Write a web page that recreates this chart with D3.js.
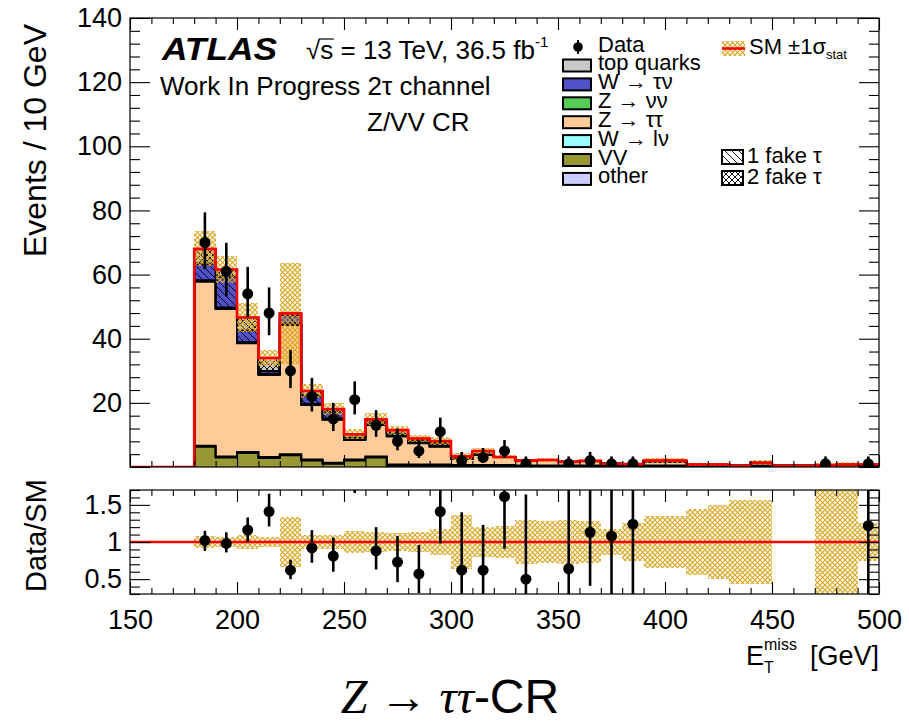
<!DOCTYPE html>
<html>
<head>
<meta charset="utf-8">
<script src="https://cdn.jsdelivr.net/npm/d3@7"></script>
<style>
  html, body { margin: 0; padding: 0; background: #fff; }
  svg { display: block; }
  text { font-family: "Liberation Sans", Arial, Helvetica, sans-serif; fill: #000; }
</style>
</head>
<body>
<svg id="chart" width="909" height="722"></svg>
<script>
// ---- E_T^miss distribution, 10 GeV bins (lower bin edges) ----
const binLow = [180,190,200,210,220,230,240,250,260,270,280,290,300,310,320,330,340,350,360,370,380,390,400,410,420,430,440,450,460,470,480,490];
const binWidth = 10;

// Stacked backgrounds (events / bin), bottom to top
const vvEvents    = [6.3,3.0,4.4,2.8,3.7,2.0,1.0,2.0,3.0,0.4,0.4,0.4,0.3,0.3,0.3,0.2,0.2,0.2,0.2,0.2,0.2,0.2,0.2,0.2,0.2,0.1,0.2,0.1,0.1,0.1,0.1,0.1];
const otherEvents = [0.3,0.3,0.3,0.3,0.3,0.3,0.3,0.3,0.3,0.4,0.4,0.4,0.3,0.3,0.3,0.3,0.3,0.3,0.3,0.3,0.3,0.3,0.3,0.3,0.3,0.2,0.3,0.2,0.2,0.2,0.2,0.2];
const zttEvents   = [51.2,46.0,33.9,25.6,40.3,17.0,13.4,6.1,9.8,8.7,6.6,5.5,1.9,3.2,2.5,1.5,1.7,1.1,1.4,0.5,0.4,1.2,1.2,0.3,0.3,0.1,0.8,0.1,0.1,0.3,0.5,0.55];
const wlvEvents   = [0.2,0.2,0.2,0.2,0.2,0.2,0.2,0.2,0.2,0.2,0.2,0.2,0,0,0,0,0,0,0,0,0,0,0,0,0,0,0,0,0,0,0,0];
const znnEvents   = [0.2,0.2,0.2,0.2,0.2,0.2,0.2,0.2,0.2,0.2,0.2,0.2,0,0,0,0,0,0,0,0,0,0,0,0,0,0,0,0,0,0,0,0];
const wtnEvents   = [5.2,9.7,3.6,0.8,2.6,2.7,2.3,0.3,0.9,0.5,0.5,0.7,0.2,0.2,0,0,0,0,0,0,0,0,0,0,0,0,0,0,0,0,0,0];
const topEvents   = [4.6,2.2,4.0,4.1,0.6,1.3,0.7,1.1,0.5,1.1,0.6,0.7,0.6,1.0,0,0,0,0,0,0,0,0.3,0.3,0,0,0,0,0,0,0,0,0];

// Relative MC statistical uncertainty per bin (null: no band)
const statRel = [0.08,0.07,0.10,0.07,0.33,0.09,0.10,0.15,0.13,0.12,0.13,0.17,0.36,0.20,0.22,0.30,0.28,0.30,0.28,0.17,0.25,0.35,0.35,0.44,0.50,0.57,0.57,null,null,0.90,0.90,0.25];

// Data
const dataX       = [185,195,205,215,225,235,245,255,265,275,285,295,305,315,325,335,355,365,375,385,475,495];
const dataN       = [70,61,54,48,30,22,15,21,13,8,5,11,2,3,5,1,1,2,1,1,1,1];
const dataErrUp   = [9.4,8.9,8.4,8.0,6.5,5.8,5.0,5.7,4.7,4.0,3.4,4.4,2.7,2.9,3.4,2.3,2.3,2.7,2.3,2.3,2.3,2.3];
const dataErrDown = [8.3,7.8,7.3,6.9,5.4,4.7,3.8,4.6,3.6,2.8,2.2,3.3,1.3,1.7,2.2,0.9,0.9,1.3,0.9,0.9,0.9,0.9];

// Data / SM
const ratioX       = [185,195,205,215,225,235,245,255,265,275,285,295,305,315,325,335,355,365,375,385,495];
const ratioVal     = [1.02,0.98,1.16,1.41,0.62,0.92,0.81,2.06,0.88,0.73,0.57,1.41,0.62,0.62,1.61,0.50,0.64,1.13,1.08,1.24,1.22];
const ratioErrUp   = [0.13,0.15,0.17,0.24,0.14,0.24,0.25,0.55,0.32,0.35,0.39,0.55,0.78,0.61,0.75,1.14,1.5,1.5,2.5,2.8,2.8];
const ratioErrDown = [0.14,0.12,0.16,0.20,0.12,0.20,0.21,0.40,0.25,0.27,0.26,0.43,0.50,0.50,0.70,0.45,0.60,0.72,0.90,1.0,1.0];

// Axis ticks
const xTicks = [150,200,250,300,350,400,450,500];
const yTicks = [0,20,40,60,80,100,120,140];
const ratioTicks = [0.5,1,1.5];

// Legend
const legendKeys   = ["top","wtn","znn","ztt","wlv","vv","other"];
const legendLabels = ["top quarks","W \u2192 \u03c4\u03bd","Z \u2192 \u03bd\u03bd","Z \u2192 \u03c4\u03c4","W \u2192 l\u03bd","VV","other"];

const colors = {
  vv: "#979733", other: "#ccccff", ztt: "#ffcc99", wlv: "#99ffff",
  znn: "#55cc55", wtn: "#5050c9", top: "#c8c8c8"
};
const bandColor = "#dba41c";

// ---- geometry ----
const svg = d3.select("#chart");
const X0 = 130, X1 = 879;
const mainTop = 18, mainBot = 467;
const ratTop = 490, ratBot = 594;

const x = d3.scaleLinear().domain([150, 500]).range([X0, X1]);
const y = d3.scaleLinear().domain([0, 140]).range([mainBot, mainTop]);
const yr = d3.scaleLinear().domain([0.3, 1.7]).range([ratBot, ratTop]);

// ---- patterns ----
const defs = svg.append("defs");
const band = defs.append("pattern").attr("id", "bandHatch").attr("patternUnits", "userSpaceOnUse")
  .attr("width", 5).attr("height", 5);
band.append("path").attr("d", "M0,0L5,5M5,0L0,5").attr("stroke", bandColor).attr("stroke-width", 1.1);

const h1 = defs.append("pattern").attr("id", "hatch1").attr("patternUnits", "userSpaceOnUse")
  .attr("width", 7).attr("height", 7);
h1.append("path").attr("d", "M-1,-1L8,8M-1,6L1,8M6,-1L8,1").attr("stroke", "#000").attr("stroke-width", 0.9);

const h2 = defs.append("pattern").attr("id", "hatch2").attr("patternUnits", "userSpaceOnUse")
  .attr("width", 6).attr("height", 6);
h2.append("path").attr("d", "M0,0L6,6M6,0L0,6").attr("stroke", "#000").attr("stroke-width", 0.9);

defs.append("clipPath").attr("id", "clipMain").append("rect")
  .attr("x", X0).attr("y", mainTop).attr("width", X1 - X0).attr("height", mainBot - mainTop);
defs.append("clipPath").attr("id", "clipRatio").append("rect")
  .attr("x", X0).attr("y", ratTop).attr("width", X1 - X0).attr("height", ratBot - ratTop);

// ---- stack ----
const stackKeys = ["vv","other","ztt","wlv","znn","wtn","top"];
const table = binLow.map((lo, i) => ({
  lo, vv: vvEvents[i], other: otherEvents[i], ztt: zttEvents[i], wlv: wlvEvents[i],
  znn: znnEvents[i], wtn: wtnEvents[i], top: topEvents[i]
}));
const stacked = d3.stack().keys(stackKeys)(table);
const total = table.map((d, i) => stacked[stacked.length - 1][i][1]);

const gMain = svg.append("g").attr("clip-path", "url(#clipMain)");

stacked.forEach(layer => {
  gMain.append("g").selectAll("rect").data(layer).join("rect")
    .attr("x", d => x(d.data.lo)).attr("width", d => x(d.data.lo + binWidth) - x(d.data.lo))
    .attr("y", d => y(d[1])).attr("height", d => Math.max(0, y(d[0]) - y(d[1])))
    .attr("fill", colors[layer.key]).attr("shape-rendering", "crispEdges");
});

// fake-tau hatching
const hatchOf = { wtn: "url(#hatch1)", top: "url(#hatch2)" };
stacked.filter(l => hatchOf[l.key]).forEach(layer => {
  gMain.append("g").selectAll("rect").data(layer.filter(d => d[1] - d[0] > 0)).join("rect")
    .attr("x", d => x(d.data.lo)).attr("width", d => x(d.data.lo + binWidth) - x(d.data.lo))
    .attr("y", d => y(d[1])).attr("height", d => y(d[0]) - y(d[1]))
    .attr("fill", hatchOf[layer.key]).attr("shape-rendering", "crispEdges");
});

// outlines of each stacked histogram
const stepLine = d3.line().x(d => x(d[0])).y(d => y(d[1])).curve(d3.curveStepAfter);
stacked.forEach(layer => {
  const pts = [[binLow[0], 0]].concat(layer.map(d => [d.data.lo, d[1]]));
  pts.push([binLow[binLow.length - 1] + binWidth, layer[layer.length - 1][1]]);
  gMain.append("path").attr("d", stepLine(pts)).attr("fill", "none")
    .attr("stroke", "#000").attr("stroke-width", 2);
});

// stat band
gMain.append("g").selectAll("rect").data(binLow.map((lo, i) => ({ lo, t: total[i], r: statRel[i] })).filter(d => d.r != null))
  .join("rect")
  .attr("x", d => x(d.lo)).attr("width", d => x(d.lo + binWidth) - x(d.lo))
  .attr("y", d => y(d.t * (1 + d.r))).attr("height", d => y(d.t * (1 - d.r)) - y(d.t * (1 + d.r)))
  .attr("fill", "url(#bandHatch)").attr("shape-rendering", "crispEdges");

// SM total
const totPts = [[150, 0], [binLow[0], 0]].concat(binLow.map((lo, i) => [lo, total[i]]));
totPts.push([binLow[binLow.length - 1] + binWidth, total[total.length - 1]]);
gMain.append("path").attr("d", stepLine(totPts)).attr("fill", "none")
  .attr("stroke", "#ff0000").attr("stroke-width", 2.6);

// data
const gData = gMain.append("g");
dataX.forEach((cx, i) => {
  gData.append("line").attr("x1", x(cx)).attr("x2", x(cx))
    .attr("y1", y(dataN[i] + dataErrUp[i])).attr("y2", y(dataN[i] - dataErrDown[i]))
    .attr("stroke", "#000").attr("stroke-width", 2.6);
  gData.append("circle").attr("cx", x(cx)).attr("cy", y(dataN[i])).attr("r", 5.5).attr("fill", "#000");
});

// ---- ratio panel ----
const gRat = svg.append("g").attr("clip-path", "url(#clipRatio)");
gRat.append("g").selectAll("rect").data(binLow.map((lo, i) => ({ lo, r: statRel[i] })).filter(d => d.r != null))
  .join("rect")
  .attr("x", d => x(d.lo)).attr("width", d => x(d.lo + binWidth) - x(d.lo))
  .attr("y", d => yr(1 + d.r)).attr("height", d => yr(1 - d.r) - yr(1 + d.r))
  .attr("fill", "url(#bandHatch)").attr("shape-rendering", "crispEdges");
gRat.append("line").attr("x1", X0).attr("x2", X1).attr("y1", yr(1)).attr("y2", yr(1))
  .attr("stroke", "#ff0000").attr("stroke-width", 2.6);
ratioX.forEach((cx, i) => {
  gRat.append("line").attr("x1", x(cx)).attr("x2", x(cx))
    .attr("y1", yr(ratioVal[i] + ratioErrUp[i])).attr("y2", yr(ratioVal[i] - ratioErrDown[i]))
    .attr("stroke", "#000").attr("stroke-width", 2.6);
  gRat.append("circle").attr("cx", x(cx)).attr("cy", yr(ratioVal[i])).attr("r", 5.5).attr("fill", "#000");
});

// ---- axes ----
const FONT = 27;
function axis(gen, scale, values, size, pos, fmt, pad) {
  const g = svg.append("g").attr("transform", pos);
  g.call(gen(scale).tickValues(values).tickSize(-size).tickPadding(pad || 7).tickFormat(fmt || (() => "")));
  g.select(".domain").remove();
  g.selectAll("line").attr("stroke", "#000").attr("stroke-width", 1.1);
  g.selectAll("text").attr("font-size", FONT).attr("font-family", "Liberation Sans, Arial, sans-serif");
  return g;
}
const minorX = d3.range(150, 501, 10).filter(v => v % 50 !== 0);
const minorY = d3.range(0, 141, 4).filter(v => v % 20 !== 0);
const minorR = d3.range(3, 18).map(v => v / 10).filter(v => Math.abs(v * 2 - Math.round(v * 2)) > 1e-6);

// main panel
axis(d3.axisLeft, y, yTicks, 20, `translate(${X0},0)`, d => d === 0 ? "" : d, 8);
axis(d3.axisLeft, y, minorY, 10, `translate(${X0},0)`);
axis(d3.axisRight, y, yTicks, 20, `translate(${X1},0)`);
axis(d3.axisRight, y, minorY, 10, `translate(${X1},0)`);
axis(d3.axisBottom, x, xTicks, 12, `translate(0,${mainBot})`);
axis(d3.axisBottom, x, minorX, 6, `translate(0,${mainBot})`);
axis(d3.axisTop, x, xTicks, 12, `translate(0,${mainTop})`);
axis(d3.axisTop, x, minorX, 6, `translate(0,${mainTop})`);

// ratio panel
axis(d3.axisLeft, yr, ratioTicks, 20, `translate(${X0},0)`, d => d, 8);
axis(d3.axisLeft, yr, minorR, 10, `translate(${X0},0)`);
axis(d3.axisRight, yr, ratioTicks, 20, `translate(${X1},0)`);
axis(d3.axisRight, yr, minorR, 10, `translate(${X1},0)`);
axis(d3.axisBottom, x, xTicks, 12, `translate(0,${ratBot})`, d => d, 16);
axis(d3.axisBottom, x, minorX, 6, `translate(0,${ratBot})`);
axis(d3.axisTop, x, xTicks, 12, `translate(0,${ratTop})`);
axis(d3.axisTop, x, minorX, 6, `translate(0,${ratTop})`);

svg.append("rect").attr("x", X0).attr("y", mainTop).attr("width", X1 - X0).attr("height", mainBot - mainTop)
  .attr("fill", "none").attr("stroke", "#000").attr("stroke-width", 1.2);
svg.append("rect").attr("x", X0).attr("y", ratTop).attr("width", X1 - X0).attr("height", ratBot - ratTop)
  .attr("fill", "none").attr("stroke", "#000").attr("stroke-width", 1.2);

// axis titles
svg.append("text").attr("transform", `translate(46,${mainTop + 6}) rotate(-90)`)
  .attr("text-anchor", "end").attr("font-size", 32).text("Events / 10 GeV");
svg.append("text").attr("transform", `translate(46,${ratBot - 2}) rotate(-90)`)
  .attr("text-anchor", "start").attr("font-size", 29).text("Data/SM");

svg.append("text").attr("x", 746).attr("y", 665).attr("font-size", FONT).text("E");
svg.append("text").attr("x", 764).attr("y", 673).attr("font-size", 16).text("T");
svg.append("text").attr("x", 764).attr("y", 650).attr("font-size", 16).text("miss");
svg.append("text").attr("x", X1).attr("y", 665).attr("text-anchor", "end").attr("font-size", FONT).text("[GeV]");

// ---- labels in the main panel ----
svg.append("text").attr("x", 162).attr("y", 60).attr("font-size", 31)
  .attr("font-weight", "bold").attr("font-style", "italic")
  .attr("textLength", 115).attr("lengthAdjust", "spacingAndGlyphs").text("ATLAS");

const lumi = svg.append("text").attr("x", 306).attr("y", 59).attr("font-size", 26);
lumi.append("tspan").text("\u221As = 13 TeV, 36.5 fb");
lumi.append("tspan").attr("font-size", 15).attr("dy", -12).text("-1");
{
  const n = lumi.node();
  const wRad = n.getSubStringLength(0, 1), wS = n.getSubStringLength(1, 1);
  svg.append("line").attr("x1", 306 + wRad - 0.5).attr("x2", 306 + wRad + wS + 0.5)
    .attr("y1", 59 - 20).attr("y2", 59 - 20).attr("stroke", "#000").attr("stroke-width", 1.2);
}
svg.append("text").attr("x", 160).attr("y", 95).attr("font-size", 26).text("Work In Progress 2\u03c4 channel");
svg.append("text").attr("x", 367).attr("y", 131).attr("font-size", 26).text("Z/VV CR");

// ---- legend ----
const lg = svg.append("g");
lg.append("line").attr("x1", 578).attr("x2", 578).attr("y1", 40).attr("y2", 54)
  .attr("stroke", "#000").attr("stroke-width", 2);
lg.append("circle").attr("cx", 578).attr("cy", 47).attr("r", 4.8).attr("fill", "#000");
lg.append("text").attr("x", 598).attr("y", 52).attr("font-size", 22).text("Data");

legendKeys.forEach((k, i) => {
  const base = 70 + i * 18.9;
  lg.append("rect").attr("x", 563).attr("y", base - 10.5).attr("width", 28).attr("height", 12)
    .attr("fill", colors[k]).attr("stroke", "#000").attr("stroke-width", 2);
  lg.append("text").attr("x", 598).attr("y", base).attr("font-size", 22).text(legendLabels[i]);
});

lg.append("rect").attr("x", 722).attr("y", 41).attr("width", 23).attr("height", 15).attr("fill", "url(#bandHatch)");
lg.append("line").attr("x1", 722).attr("x2", 745).attr("y1", 48.5).attr("y2", 48.5)
  .attr("stroke", "#ff0000").attr("stroke-width", 2.6);
const smt = lg.append("text").attr("x", 749).attr("y", 54).attr("font-size", 22);
smt.append("tspan").text("SM \u00b11\u03c3");
smt.append("tspan").attr("font-size", 13).attr("dy", 5).text("stat");

[["url(#hatch1)", "1 fake \u03c4", 150], ["url(#hatch2)", "2 fake \u03c4", 171]].forEach(([p, label, top]) => {
  lg.append("rect").attr("x", 722).attr("y", top).attr("width", 21).attr("height", 14)
    .attr("fill", "#fff").attr("stroke", "#000").attr("stroke-width", 2);
  lg.append("rect").attr("x", 722).attr("y", top).attr("width", 21).attr("height", 14)
    .attr("fill", p).attr("stroke", "#000").attr("stroke-width", 2);
  lg.append("text").attr("x", 747).attr("y", top + 13).attr("font-size", 22).text(label);
});

// ---- caption ----
const cap = svg.append("text").attr("x", 450).attr("y", 713).attr("text-anchor", "middle").attr("font-size", 48);
cap.append("tspan").attr("font-family", "Liberation Serif, Times New Roman, serif").attr("font-style", "italic").text("Z");
cap.append("tspan").attr("font-family", "Liberation Serif, Times New Roman, serif").text(" \u2192 ");
cap.append("tspan").attr("font-family", "Liberation Serif, Times New Roman, serif").attr("font-style", "italic").text("\u03c4\u03c4");
cap.append("tspan").text("-CR");
</script>
</body>
</html>
